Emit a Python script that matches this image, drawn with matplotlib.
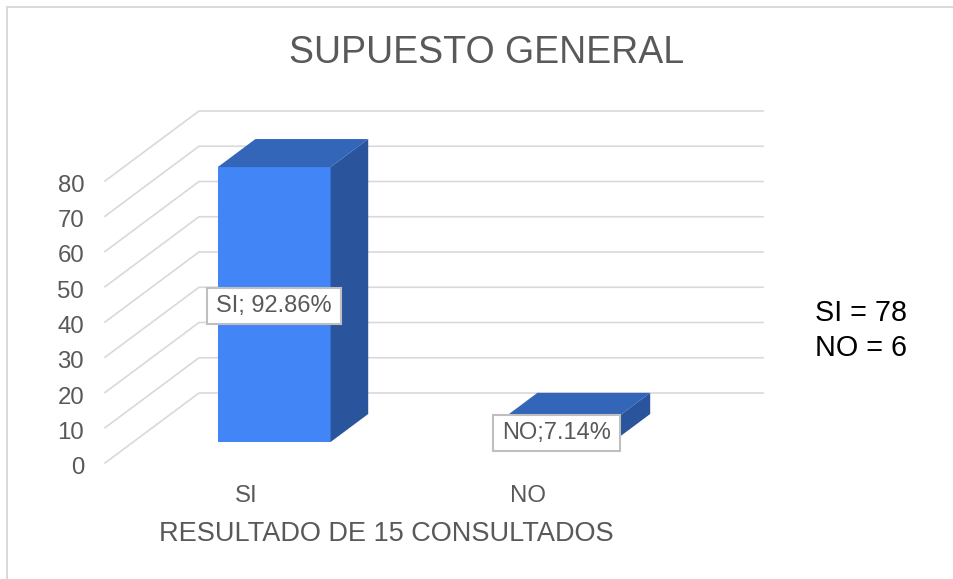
import matplotlib
matplotlib.use("Agg")
import matplotlib.pyplot as plt
from matplotlib.patches import Polygon, Rectangle
from matplotlib.transforms import ScaledTranslation, IdentityTransform

categories = ["SI", "NO"]
counts = [78, 6]
percent_labels = ["SI; 92.86%", "NO;7.14%"]
value_ticks = [0, 10, 20, 30, 40, 50, 60, 70, 80]
title = "SUPUESTO GENERAL"
xlabel = "RESULTADO DE 15 CONSULTADOS"
note = "SI = 78\nNO = 6"

W, H = 954, 579
plt.rcParams["font.family"] = ["Liberation Sans", "DejaVu Sans"]
GREY = "#595959"
GRID = "#d9d9d9"
FRONT, TOP, SIDE = "#4285f7", "#3366b9", "#2a549c"

fig = plt.figure(figsize=(W / 100, H / 100), dpi=100)
fig.patch.set_facecolor("white")
fig.add_artist(Rectangle((7 / W, -0.02), 1.02, (579 - 7) / H + 0.02, transform=fig.transFigure,
                         fill=False, edgecolor=GRID, linewidth=1.4))

# Front plane of the 3-D box in figure pixels
ax = fig.add_axes([105 / W, (H - 463) / H, 564 / W, 282 / H])
ax.set_xlim(0, 2)
ax.set_ylim(0, 80)
ax.patch.set_visible(False)
for s in ax.spines.values():
    s.set_visible(False)

# Oblique depth vector (category units, value units)
DX = 94 / 282
DY = 70 / 3.525
GAP = 0.3
D0, D1 = 0.3, 0.7


def proj(x, v, d):
    return (x + d * DX, v + d * DY)


for v in value_ticks:
    p0, p1, p2 = proj(0, v, 0), proj(0, v, 1), proj(2, v, 1)
    ax.plot([p0[0], p1[0], p2[0]], [p0[1], p1[1], p2[1]], color=GRID, lw=1.2,
            clip_on=False, zorder=1, solid_joinstyle="miter")

renderer = fig.canvas.get_renderer()
shift = ScaledTranslation(0, -1.5 / 100, fig.dpi_scale_trans)
for i, (val, lab) in enumerate(zip(counts, percent_labels)):
    x0, x1 = i + GAP, i + 1 - GAP
    ax.add_patch(Polygon([proj(x0, 0, D0), proj(x1, 0, D0), proj(x1, val, D0), proj(x0, val, D0)],
                         closed=True, fc=FRONT, ec="none", clip_on=False, zorder=3))
    ax.add_patch(Polygon([proj(x0, val, D0), proj(x1, val, D0), proj(x1, val, D1), proj(x0, val, D1)],
                         closed=True, fc=TOP, ec="none", clip_on=False, zorder=3))
    ax.add_patch(Polygon([proj(x1, 0, D0), proj(x1, 0, D1), proj(x1, val, D1), proj(x1, val, D0)],
                         closed=True, fc=SIDE, ec="none", clip_on=False, zorder=3))
    cx, cy = proj((x0 + x1) / 2, val / 2, D0)
    t = fig.text(cx, cy, lab, ha="center", va="center", fontsize=17, color=GREY, zorder=6,
                 transform=ax.transData + shift)
    bb = t.get_window_extent(renderer)
    fig.add_artist(Rectangle((bb.x0 - 9, bb.y0 - 7), bb.width + 18, bb.height + 14,
                             transform=IdentityTransform(), fc="white", ec="#bfbfbf", lw=1.5, zorder=5))

ax.set_yticks(value_ticks)
ax.set_xticks([0.5, 1.5])
ax.set_xticklabels(categories)
ax.tick_params(axis="both", length=0, labelsize=17.3, labelcolor=GREY)
ax.tick_params(axis="y", pad=15)
ax.tick_params(axis="x", pad=16)
for lb in ax.get_yticklabels():
    lb.set_transform(lb.get_transform() + ScaledTranslation(0, -2.5 / 100, fig.dpi_scale_trans))

fig.text(487 / W, 1 - 53 / H, title, ha="center", va="center", fontsize=27, color=GREY)
fig.text(386 / W, 1 - 534 / H, xlabel, ha="center", va="center", fontsize=19.5, color=GREY)
fig.text(815 / W, 1 - 330.5 / H, note, ha="left", va="center", fontsize=20.7, color="black", linespacing=1.3)

fig.savefig("out.png", dpi=100, facecolor="white")
